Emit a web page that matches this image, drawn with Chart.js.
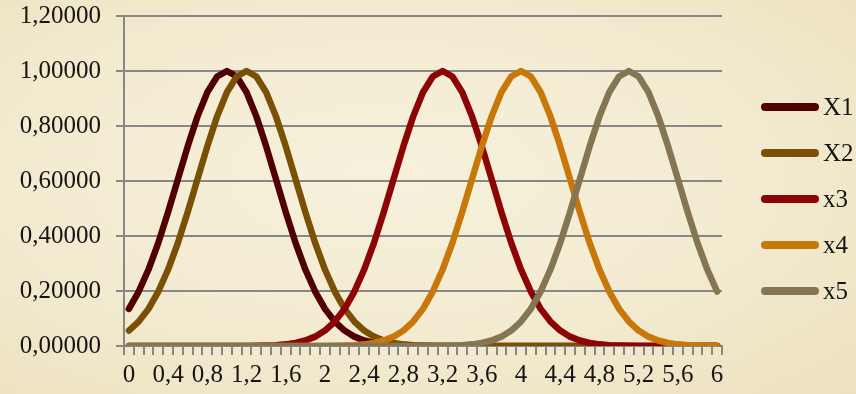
<!DOCTYPE html>
<html>
<head>
<meta charset="utf-8">
<script src="https://cdn.jsdelivr.net/npm/chart.js@4.4.1/dist/chart.umd.min.js"></script>
<style>
    html, body {
        margin: 0;
        padding: 0;
    }
    body {
        width: 856px;
        height: 394px;
        overflow: hidden;
        background: radial-gradient(ellipse at 45% 45%, #f7f1dc 0%, #f3ebd0 55%, #ece1bf 100%);
        font-family: 'Liberation Serif', serif;
    }
    .chart-wrap {
        position: relative;
        width: 856px;
        height: 394px;
    }
    .chart-legend {
        position: absolute;
        left: 761px;
        top: 84px;
    }
    .legend-item {
        display: flex;
        align-items: center;
        height: 46px;
    }
    .legend-line {
        width: 58px;
        height: 8px;
        border-radius: 4px;
    }
    .legend-text {
        margin-left: 4px;
        font-size: 25px;
        color: #151515;
    }
</style>
</head>
<body>
<div class="chart-wrap">
    <canvas id="chart" width="856" height="394"></canvas>
    <div class="chart-legend" id="legend"></div>
</div>
<script>
const categories = [
    '0', '0,1', '0,2', '0,3', '0,4', '0,5', '0,6', '0,7', '0,8', '0,9',
    '1', '1,1', '1,2', '1,3', '1,4', '1,5', '1,6', '1,7', '1,8', '1,9',
    '2', '2,1', '2,2', '2,3', '2,4', '2,5', '2,6', '2,7', '2,8', '2,9',
    '3', '3,1', '3,2', '3,3', '3,4', '3,5', '3,6', '3,7', '3,8', '3,9',
    '4', '4,1', '4,2', '4,3', '4,4', '4,5', '4,6', '4,7', '4,8', '4,9',
    '5', '5,1', '5,2', '5,3', '5,4', '5,5', '5,6', '5,7', '5,8', '5,9',
    '6',
];

const x1Values = [
    0.135, 0.198, 0.278, 0.375, 0.487, 0.607, 0.726, 0.835, 0.923, 0.980,
    1.000, 0.980, 0.923, 0.835, 0.726, 0.607, 0.487, 0.375, 0.278, 0.198,
    0.135, 0.089, 0.056, 0.034, 0.020, 0.011, 0.006, 0.003, 0.002, 0.001,
    0, 0, 0, 0, 0, 0, 0, 0, 0, 0,
    0, 0, 0, 0, 0, 0, 0, 0, 0, 0,
    0, 0, 0, 0, 0, 0, 0, 0, 0, 0,
    0,
];

const x2Values = [
    0.056, 0.089, 0.135, 0.198, 0.278, 0.375, 0.487, 0.607, 0.726, 0.835,
    0.923, 0.980, 1.000, 0.980, 0.923, 0.835, 0.726, 0.607, 0.487, 0.375,
    0.278, 0.198, 0.135, 0.089, 0.056, 0.034, 0.020, 0.011, 0.006, 0.003,
    0.002, 0.001, 0, 0, 0, 0, 0, 0, 0, 0,
    0, 0, 0, 0, 0, 0, 0, 0, 0, 0,
    0, 0, 0, 0, 0, 0, 0, 0, 0, 0,
    0,
];

const x3Values = [
    0, 0, 0, 0, 0, 0, 0, 0, 0, 0,
    0, 0, 0, 0.001, 0.002, 0.003, 0.006, 0.011, 0.020, 0.034,
    0.056, 0.089, 0.135, 0.198, 0.278, 0.375, 0.487, 0.607, 0.726, 0.835,
    0.923, 0.980, 1.000, 0.980, 0.923, 0.835, 0.726, 0.607, 0.487, 0.375,
    0.278, 0.198, 0.135, 0.089, 0.056, 0.034, 0.020, 0.011, 0.006, 0.003,
    0.002, 0.001, 0, 0, 0, 0, 0, 0, 0, 0,
    0,
];

const x4Values = [
    0, 0, 0, 0, 0, 0, 0, 0, 0, 0,
    0, 0, 0, 0, 0, 0, 0, 0, 0, 0,
    0, 0.001, 0.002, 0.003, 0.006, 0.011, 0.020, 0.034, 0.056, 0.089,
    0.135, 0.198, 0.278, 0.375, 0.487, 0.607, 0.726, 0.835, 0.923, 0.980,
    1.000, 0.980, 0.923, 0.835, 0.726, 0.607, 0.487, 0.375, 0.278, 0.198,
    0.135, 0.089, 0.056, 0.034, 0.020, 0.011, 0.006, 0.003, 0.002, 0.001,
    0,
];

const x5Values = [
    0, 0, 0, 0, 0, 0, 0, 0, 0, 0,
    0, 0, 0, 0, 0, 0, 0, 0, 0, 0,
    0, 0, 0, 0, 0, 0, 0, 0, 0, 0,
    0, 0, 0.001, 0.002, 0.003, 0.006, 0.011, 0.020, 0.034, 0.056,
    0.089, 0.135, 0.198, 0.278, 0.375, 0.487, 0.607, 0.726, 0.835, 0.923,
    0.980, 1.000, 0.980, 0.923, 0.835, 0.726, 0.607, 0.487, 0.375, 0.278,
    0.198,
];

const seriesNames = ['X1', 'X2', 'x3', 'x4', 'x5'];
const seriesValues = [x1Values, x2Values, x3Values, x4Values, x5Values];
const seriesColors = ['#500000', '#7a5006', '#8c0404', '#c8780a', '#847652'];

const gridColor = '#878787';
const labelFont = { family: "'Liberation Serif', serif", size: 25 };

const datasets = seriesNames.map((name, i) => ({
    label: name,
    data: seriesValues[i],
    borderColor: seriesColors[i],
    backgroundColor: seriesColors[i],
    borderWidth: 6.5,
    borderCapStyle: 'round',
    borderJoinStyle: 'round',
    pointRadius: 0,
    tension: 0,
    fill: false,
    // later series are painted over the earlier ones, like the original
    order: seriesNames.length - i,
}));

const chart = new Chart(document.getElementById('chart'), {
    type: 'line',
    data: {
        labels: categories,
        datasets: datasets,
    },
    options: {
        responsive: false,
        animation: false,
        layout: {
            padding: { top: 16, right: 134, left: 0, bottom: 0 },
        },
        plugins: {
            legend: { display: false },
            tooltip: { enabled: false },
        },
        scales: {
            x: {
                type: 'category',
                offset: true,
                grid: {
                    offset: true,
                    drawOnChartArea: false,
                    drawTicks: true,
                    tickLength: 9,
                    color: gridColor,
                    lineWidth: 2,
                },
                border: { display: true, color: gridColor, width: 2 },
                ticks: {
                    autoSkip: false,
                    maxRotation: 0,
                    minRotation: 0,
                    padding: 5,
                    color: '#151515',
                    font: labelFont,
                    callback: (value, index) => (index % 4 === 0 ? categories[index] : ''),
                },
                afterFit: (scale) => {
                    scale.height = 48;
                },
            },
            y: {
                min: 0,
                max: 1.2,
                grid: {
                    color: gridColor,
                    lineWidth: 2,
                    drawTicks: true,
                    tickLength: 8,
                },
                border: { display: true, color: gridColor, width: 2 },
                ticks: {
                    stepSize: 0.2,
                    padding: 15,
                    color: '#151515',
                    font: labelFont,
                    callback: (value) => value.toFixed(5).replace('.', ','),
                },
                afterFit: (scale) => {
                    scale.width = 124;
                    // top label may hang over the edge, the page padding handles it
                    scale.paddingTop = 0;
                    scale.paddingBottom = 0;
                },
            },
        },
    },
});

// html legend, Excel style: thick line sample followed by the name
const legendBox = document.getElementById('legend');
chart.data.datasets.forEach((ds) => {
    const item = document.createElement('div');
    item.className = 'legend-item';
    const line = document.createElement('span');
    line.className = 'legend-line';
    line.style.background = ds.borderColor;
    const text = document.createElement('span');
    text.className = 'legend-text';
    text.textContent = ds.label;
    item.appendChild(line);
    item.appendChild(text);
    legendBox.appendChild(item);
});
</script>
</body>
</html>
